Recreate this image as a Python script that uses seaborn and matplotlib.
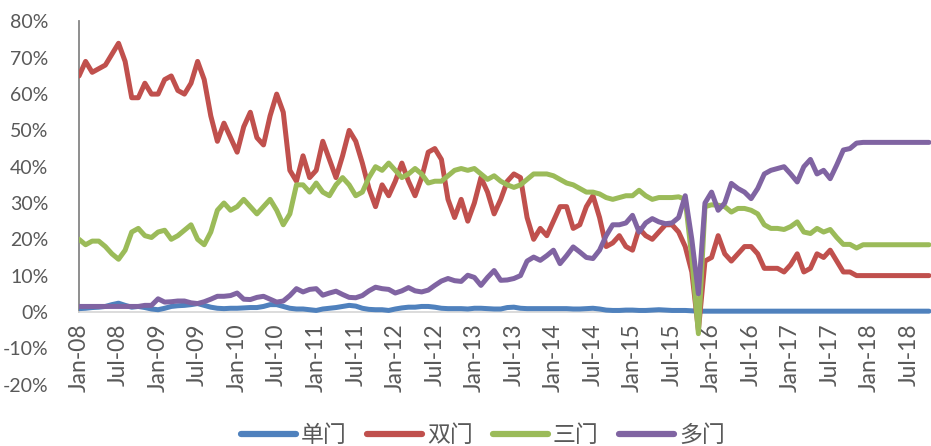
import numpy as np
import pandas as pd
import matplotlib
matplotlib.use("Agg")
import matplotlib.pyplot as plt
import seaborn as sns

# monthly share, Jan-08 .. Oct-18 (130 months), in %
single = [0.9, 1.0, 1.2, 1.3, 1.5, 2.0, 2.4, 1.8, 1.3, 1.5,
          1.2, 0.8, 0.6, 1.0, 1.5, 1.7, 1.8, 2.0, 2.3, 1.8,
          1.3, 1.0, 0.9, 1.0, 1.0, 1.1, 1.2, 1.2, 1.5, 2.0,
          2.0, 1.5, 1.0, 0.8, 0.8, 0.6, 0.4, 0.8, 1.0, 1.2,
          1.5, 1.8, 1.6, 1.0, 0.7, 0.6, 0.6, 0.4, 0.8, 1.1,
          1.3, 1.3, 1.5, 1.5, 1.3, 1.0, 0.9, 0.9, 0.9, 0.8,
          1.0, 1.0, 0.9, 0.8, 0.8, 1.2, 1.3, 1.0, 0.9, 0.9,
          0.9, 0.9, 0.9, 0.9, 0.9, 0.8, 0.8, 0.9, 1.0, 0.8,
          0.5, 0.4, 0.4, 0.5, 0.5, 0.4, 0.4, 0.5, 0.6, 0.5,
          0.4, 0.4, 0.4, 0.3, 0.2, 0.2, 0.2, 0.2, 0.2, 0.2,
          0.2, 0.2, 0.2, 0.2, 0.2, 0.2, 0.2, 0.2, 0.2, 0.2,
          0.2, 0.2, 0.2, 0.2, 0.2, 0.2, 0.2, 0.2, 0.2, 0.2,
          0.2, 0.2, 0.2, 0.2, 0.2, 0.2, 0.2, 0.2, 0.2, 0.2]
double = [65, 69, 66, 67, 68, 71, 74, 69, 59, 59,
          63, 60, 60, 64, 65, 61, 60, 63, 69, 64,
          54, 47, 52, 48, 44, 51, 55, 48, 46, 54,
          60, 55, 39, 36, 43, 37, 39, 47, 42, 37,
          43, 50, 47, 41, 34, 29, 35, 32, 36, 41,
          36, 32, 37, 44, 45, 42, 31, 26, 31, 25,
          30, 37, 33, 27, 31, 36, 38, 37, 26, 20,
          23, 21, 25, 29, 29, 23, 24, 29, 32, 26,
          18, 19, 21, 18, 17, 23, 21, 20, 22, 24,
          24, 22, 18, 11, -5, 14, 15, 21, 16, 14,
          16, 18, 18, 16, 12, 12, 12, 11, 13, 16,
          11, 12, 16, 15, 17, 14, 11, 11, 10, 10,
          10, 10, 10, 10, 10, 10, 10, 10, 10, 10]
triple = [20, 18.5, 19.5, 19.5, 18, 16, 14.5, 17, 22, 23,
          21, 20.5, 22, 22.5, 20, 21, 22.5, 24, 20, 18.5,
          22, 28, 30, 28, 29, 31, 29, 27, 29, 31,
          28, 24, 27, 35, 35, 33, 35.5, 33, 32, 35,
          37, 35, 32, 33, 37, 40, 39, 41, 39, 37,
          38, 39.5, 38, 35.5, 36, 36, 37.5, 39, 39.5, 39,
          39.5, 38, 36.5, 37.5, 36, 35, 34.3, 35, 36.5, 38,
          38, 38, 37.5, 36.5, 35.5, 35, 34, 33, 33, 32.5,
          31.5, 31, 31.5, 32, 32, 33.5, 32, 31, 31.5, 31.5,
          31.5, 31.7, 31, 15, -6, 29, 29.5, 29.4, 29, 27.5,
          28.5, 28.5, 28, 27, 24, 23, 23, 22.7, 23.5, 24.8,
          22, 21.6, 23, 22, 22.7, 20.5, 18.6, 18.6, 17.6, 18.5,
          18.5, 18.5, 18.5, 18.5, 18.5, 18.5, 18.5, 18.5, 18.5, 18.5]
multi = [1.5, 1.5, 1.5, 1.5, 1.5, 1.5, 1.5, 1.5, 1.5, 1.5,
         1.8, 1.8, 3.6, 2.7, 2.8, 3.0, 3.0, 2.5, 2.3, 2.8,
         3.5, 4.3, 4.3, 4.5, 5.2, 3.5, 3.4, 4.0, 4.3, 3.5,
         2.7, 3.0, 4.5, 6.4, 5.5, 6.2, 6.4, 4.6, 5.2, 5.7,
         4.8, 4.0, 3.9, 4.5, 5.8, 6.8, 6.4, 6.2, 5.2, 5.8,
         6.7, 5.8, 5.5, 6.0, 7.3, 8.5, 9.2, 8.6, 8.4, 10.1,
         9.5, 7.3, 9.5, 11.4, 8.7, 8.8, 9.2, 10.0, 14.0, 15.1,
         14.2, 15.5, 17.0, 13.3, 15.5, 17.9, 16.5, 15.0, 14.7, 17.0,
         21.0, 24.0, 24.0, 24.5, 26.6, 22.0, 24.5, 25.7, 24.8, 24.3,
         24.5, 26.0, 32.0, 20.0, 5.0, 30.0, 33.0, 28.0, 30.0, 35.4,
         34.0, 33.0, 31.2, 34.0, 38.0, 39.0, 39.5, 40.0, 38.0, 35.8,
         40.0, 42.0, 38.0, 39.0, 36.7, 40.5, 44.6, 45.0, 46.5, 46.7,
         46.7, 46.7, 46.7, 46.7, 46.7, 46.7, 46.7, 46.7, 46.7, 46.7]

series_names = ["单门", "双门", "三门", "多门"]
colors = ["#4F81BD", "#C0504D", "#9BBB59", "#8064A2"]
tick_labels = ["Jan-08", "Jul-08", "Jan-09", "Jul-09", "Jan-10", "Jul-10",
               "Jan-11", "Jul-11", "Jan-12", "Jul-12", "Jan-13", "Jul-13",
               "Jan-14", "Jul-14", "Jan-15", "Jul-15", "Jan-16", "Jul-16",
               "Jan-17", "Jul-17", "Jan-18", "Jul-18"]

n = len(single)
df = pd.concat([
    pd.DataFrame({"month": np.arange(n), "share": np.array(v) / 100, "type": name})
    for name, v in zip(series_names, [single, double, triple, multi])
])

sns.set_theme(style="white")
plt.rcParams["font.family"] = ["Lato", "Noto Sans CJK SC", "DejaVu Sans"]
txt = "#595959"

fig = plt.figure(figsize=(9.31, 4.46), dpi=100)
ax = fig.add_axes([79 / 931, 1 - 384.5 / 446, 1 - 79 / 931, (384.5 - 21.5) / 446])

sns.lineplot(data=df, x="month", y="share", hue="type", palette=colors,
             hue_order=series_names, linewidth=3.6, ax=ax, legend=False,
             zorder=3)
for ln in ax.lines:
    ln.set_solid_joinstyle("round")
    ln.set_solid_capstyle("round")

# spine position first: moving it resets the tick setup
for s in ["top", "right"]:
    ax.spines[s].set_visible(False)
ax.spines["bottom"].set_position(("data", 0))
ax.spines["bottom"].set_color("#d9d9d9")
ax.spines["bottom"].set_linewidth(1.3)
ax.spines["left"].set_color("#868686")
ax.spines["left"].set_linewidth(1.3)

ax.set_xlim(0, 129.3)
ax.set_ylim(-0.2, 0.8)
ax.spines["left"].set_bounds(0, 0.8)
yt = np.arange(-0.2, 0.81, 0.1)
ax.set_yticks(yt)
ax.set_yticklabels([f"{int(round(t * 100))}%" for t in yt])
ax.set_xticks(np.arange(0, 6 * len(tick_labels), 6))
ax.set_xticklabels(tick_labels)
ax.set_xlabel("")
ax.set_ylabel("")

ax.tick_params(axis="y", length=0, pad=22, labelsize=14, labelcolor=txt)
ax.tick_params(axis="x", direction="out", length=6, width=1.3, color="#d9d9d9",
               pad=2, labelsize=16.5, labelcolor=txt, labelrotation=90)

handles = [plt.Line2D([], [], color=c, linewidth=4.5) for c in colors]
fig.legend(handles, series_names, loc="center", bbox_to_anchor=(483 / 931, 1 - 435 / 446),
           ncol=4, frameon=False, fontsize=16.5, labelcolor=txt, handlelength=2.4,
           handletextpad=0.2, columnspacing=0.9)

fig.savefig("out.png", dpi=100)
